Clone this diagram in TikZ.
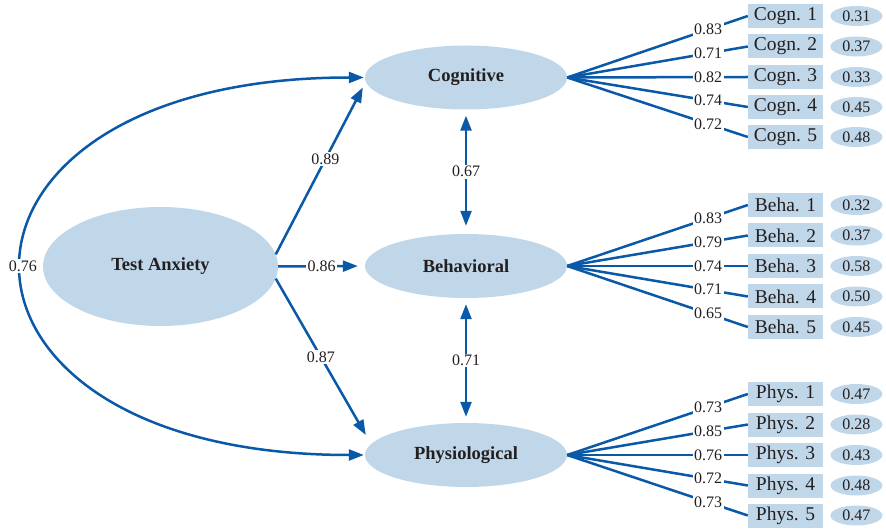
\documentclass[tikz,border=0pt]{standalone}
\usepackage{fontspec}
\setmainfont{Liberation Serif}
\usetikzlibrary{arrows.meta,shapes.geometric}
\definecolor{pathblue}{RGB}{10,88,168}
\definecolor{latfill}{RGB}{192,215,234}
\definecolor{txtgray}{RGB}{35,31,32}
\begin{document}
\begin{tikzpicture}
    [x=1pt,y=-1pt,
     latent/.style={ellipse,fill=latfill,inner sep=0pt,minimum width=202pt,minimum height=64pt,
       text=txtgray,font=\fontsize{18.5}{20}\selectfont\bfseries},
     ind/.style={rectangle,fill=latfill,inner sep=0pt,minimum width=75pt,minimum height=24pt,
       text=txtgray,font=\fontsize{19.5}{21}\selectfont},
     err/.style={ellipse,fill=latfill,inner sep=0pt,minimum width=52pt,minimum height=20pt,
       label distance=7pt,text=txtgray,font=\fontsize{16}{18}\selectfont},
     coef/.style={fill=white,inner sep=1.5pt,text=txtgray,font=\fontsize{16}{18}\selectfont},
     reg/.style={draw=pathblue,line width=2.5pt,-{Triangle[length=15pt,width=11pt]}},
     cov/.style={draw=pathblue,line width=2.5pt,
       {Triangle[length=15pt,width=11pt]}-{Triangle[length=15pt,width=11pt]}},
     load/.style={draw=pathblue,line width=2.5pt}]
    \useasboundingbox (0,0) rectangle (886,529);
    % latent factors
    \node [latent,minimum width=235pt,minimum height=119pt] (ta) at (160.5,266.5) {Test Anxiety};
    \node [latent] (cog) at (466,77.5) {Cognitive};
    \node [latent] (beh) at (466,266) {Behavioral};
    \node [latent] (phy) at (466,455) {Physiological};
    % structural paths
    \draw [reg] (ta.6) -- node [coef,pos=0.57] {0.89} ([shift={(-2pt,-10pt)}]cog.west);
    \draw [reg,shorten >=7pt] (ta.east) -- node [coef] {0.86} (beh.west);
    \draw [reg] (ta.-6) -- node [coef] {0.87} ([shift={(1pt,20pt)}]phy.west);
    \draw [cov,shorten <=1pt,shorten >=1pt] (cog.west) to [out=180,in=180,distance=456pt]
      node [coef] {0.76} (phy.west);
    \draw [cov,shorten <=6pt,shorten >=8pt] (cog.south) -- node [coef] {0.67} (beh.north);
    \draw [cov,shorten <=6pt,shorten >=6pt] (beh.south) -- node [coef] {0.71} (phy.north);
    % cognitive indicators
    \node [ind,label={[err]right:0.31}] (c1) at (785.5,16) {Cogn. 1};
    \node [ind,label={[err]right:0.37}] (c2) at (785.5,46.5) {Cogn. 2};
    \node [ind,label={[err]right:0.33}] (c3) at (785.5,77) {Cogn. 3};
    \node [ind,label={[err]right:0.45}] (c4) at (785.5,107) {Cogn. 4};
    \node [ind,label={[err]right:0.48}] (c5) at (785.5,137) {Cogn. 5};
    \draw [load] (cog.east) -- node [coef,pos=0.78] {0.83} (c1.west);
    \draw [load] (cog.east) -- node [coef,pos=0.78] {0.71} (c2.west);
    \draw [load] (cog.east) -- node [coef,pos=0.78] {0.82} (c3.west);
    \draw [load] (cog.east) -- node [coef,pos=0.78] {0.74} (c4.west);
    \draw [load] (cog.east) -- node [coef,pos=0.78] {0.72} (c5.west);
    % behavioral indicators
    \node [ind,label={[err]right:0.32}] (b1) at (785.5,205) {Beha. 1};
    \node [ind,label={[err]right:0.37}] (b2) at (785.5,235.5) {Beha. 2};
    \node [ind,label={[err]right:0.58}] (b3) at (785.5,266) {Beha. 3};
    \node [ind,label={[err]right:0.50}] (b4) at (785.5,296.5) {Beha. 4};
    \node [ind,label={[err]right:0.45}] (b5) at (785.5,327) {Beha. 5};
    \draw [load] (beh.east) -- node [coef,pos=0.78] {0.83} (b1.west);
    \draw [load] (beh.east) -- node [coef,pos=0.78] {0.79} (b2.west);
    \draw [load] (beh.east) -- node [coef,pos=0.78] {0.74} (b3.west);
    \draw [load] (beh.east) -- node [coef,pos=0.78] {0.71} (b4.west);
    \draw [load] (beh.east) -- node [coef,pos=0.78] {0.65} (b5.west);
    % physiological indicators
    \node [ind,label={[err]right:0.47}] (p1) at (785.5,394) {Phys. 1};
    \node [ind,label={[err]right:0.28}] (p2) at (785.5,424.5) {Phys. 2};
    \node [ind,label={[err]right:0.43}] (p3) at (785.5,455) {Phys. 3};
    \node [ind,label={[err]right:0.48}] (p4) at (785.5,485.5) {Phys. 4};
    \node [ind,label={[err]right:0.47}] (p5) at (785.5,515.5) {Phys. 5};
    \draw [load] (phy.east) -- node [coef,pos=0.78] {0.73} (p1.west);
    \draw [load] (phy.east) -- node [coef,pos=0.78] {0.85} (p2.west);
    \draw [load] (phy.east) -- node [coef,pos=0.78] {0.76} (p3.west);
    \draw [load] (phy.east) -- node [coef,pos=0.78] {0.72} (p4.west);
    \draw [load] (phy.east) -- node [coef,pos=0.78] {0.73} (p5.west);
\end{tikzpicture}
\end{document}
